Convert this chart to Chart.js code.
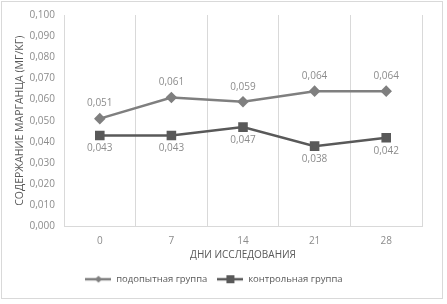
<!DOCTYPE html>
<html lang="ru">
<head>
<meta charset="UTF-8">
<title>Марганец</title>
<style>
  body { margin: 0; background: #fff; }
  #frame { position: absolute; left: 1px; top: 1px; width: 442px; height: 298px; border: 1px solid #d9d9d9; box-sizing: border-box; }
  #wrap { position: absolute; left: 0; top: 0; width: 447px; height: 304px; }
</style>
</head>
<body>
<div id="frame"></div>
<div id="wrap"><canvas id="chart" width="447" height="304"></canvas></div>
<script src="https://cdn.jsdelivr.net/npm/chart.js"></script>
<script>
const days = ['0', '7', '14', '21', '28']
const experimental = [0.051, 0.061, 0.059, 0.064, 0.064]
const control = [0.043, 0.043, 0.047, 0.038, 0.042]
const seriesNames = ['подопытная группа', 'контрольная группа']

const font = "'Open Sans', 'DejaVu Sans', sans-serif"
const textColor = '#8c8c8c'
const colA = '#7f7f7f'
const colB = '#595959'

// legend icon: short line with marker in the middle
function legendIcon(color, shape) {
  const c = document.createElement('canvas')
  c.width = 26; c.height = 10
  const g = c.getContext('2d')
  g.strokeStyle = color; g.lineWidth = 2.5
  g.beginPath(); g.moveTo(0, 5); g.lineTo(26, 5); g.stroke()
  g.fillStyle = color
  if (shape === 'rectRot') {
    g.beginPath(); g.moveTo(13, 1.5); g.lineTo(16.5, 5); g.lineTo(13, 8.5); g.lineTo(9.5, 5); g.closePath(); g.fill()
  } else {
    g.fillRect(9, 1, 8, 8)
  }
  return c
}

const valueLabels = {
  id: 'valueLabels',
  afterDatasetsDraw(chart) {
    const ctx = chart.ctx
    ctx.save()
    ctx.font = '10px ' + font
    ctx.fillStyle = textColor
    ctx.textAlign = 'center'
    ctx.textBaseline = 'middle'
    chart.data.datasets.forEach((ds, i) => {
      const meta = chart.getDatasetMeta(i)
      meta.data.forEach((pt, j) => {
        const txt = ds.data[j].toFixed(3).replace('.', ',')
        const dy = i === 0 ? -15 : 13
        ctx.fillText(txt, pt.x, pt.y + dy)
      })
    })
    ctx.restore()
  }
}

new Chart(document.getElementById('chart'), {
  type: 'line',
  data: {
    labels: days,
    datasets: [
      { label: seriesNames[0], data: experimental, borderColor: colA, backgroundColor: colA,
        borderWidth: 2.5, pointStyle: 'rectRot', pointRadius: 4, pointHoverRadius: 4, tension: 0,
        legendIcon: legendIcon(colA, 'rectRot') },
      { label: seriesNames[1], data: control, borderColor: colB, backgroundColor: colB,
        borderWidth: 2.5, pointStyle: 'rect', pointRadius: 5, pointHoverRadius: 5, tension: 0,
        legendIcon: legendIcon(colB, 'rect') }
    ]
  },
  options: {
    responsive: false,
    animation: false,
    layout: { padding: { left: 6, right: 25, top: 12, bottom: 10 } },
    plugins: {
      tooltip: { enabled: false },
      legend: {
        position: 'bottom',
        labels: {
          usePointStyle: true,
          pointStyleWidth: 26,
          padding: 10,
          color: '#595959',
          font: { family: font, size: 9.5 },
          generateLabels(chart) {
            return chart.data.datasets.map((ds, i) => ({
              text: ds.label, pointStyle: ds.legendIcon, fontColor: '#595959',
              lineWidth: 0, strokeStyle: 'transparent', fillStyle: 'transparent', datasetIndex: i
            }))
          }
        }
      }
    },
    scales: {
      x: {
        offset: true,
        grid: { offset: true, color: '#d9d9d9', drawTicks: false },
        border: { color: '#d9d9d9' },
        ticks: { color: textColor, font: { family: font, size: 10 }, padding: 9 },
        title: { display: true, text: 'ДНИ ИССЛЕДОВАНИЯ', color: '#595959', font: { family: font, size: 10 }, padding: { top: -7, bottom: 3 } }
      },
      y: {
        min: 0, max: 0.1,
        afterFit(s) { s.width = 58 },
        grid: { display: false, drawTicks: false },
        border: { display: false },
        ticks: { stepSize: 0.01, color: textColor, font: { family: font, size: 10 }, padding: 9,
          callback: v => v.toFixed(3).replace('.', ',') },
        title: { display: true, text: 'СОДЕРЖАНИЕ МАРГАНЦА (МГ/КГ)', color: '#595959', font: { family: font, size: 10.5 }, padding: { top: 8, bottom: 0 } }
      }
    }
  },
  plugins: [valueLabels]
})
</script>
</body>
</html>
